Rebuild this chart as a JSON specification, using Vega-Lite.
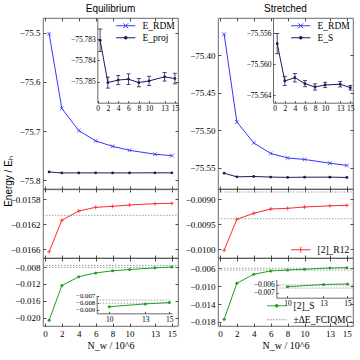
{
"$schema": "https://vega.github.io/schema/vega-lite/v6.json",
"background": "white",
"padding": {"left": 2, "top": 3, "right": 2, "bottom": 2},
"config": {
 "view": {"stroke": "#444", "strokeWidth": 0.8},
 "axis": {"labelFont": "Liberation Serif", "labelFontSize": 9, "labelColor": "#000", "tickSize": -3, "tickColor": "#222", "tickWidth": 0.8, "domain": false, "grid": false, "labelPadding": 6, "titleFont": "Liberation Serif", "titleFontSize": 10, "titleFontWeight": "normal", "titleColor": "#000", "labelFlush": false, "labelOverlap": false, "labelBound": false},
 "legend": {"labelFont": "Liberation Serif", "labelFontSize": 9.5, "labelColor": "#000", "symbolSize": 64, "symbolStrokeWidth": 1, "labelOffset": 12, "padding": 1, "rowPadding": 1, "symbolType": "M-2.4,0L2.4,0"},
 "title": {"font": "Liberation Sans", "fontSize": 10, "fontWeight": "normal", "color": "#000"}
},
"datasets": {
 "eqTop": [
  {"x": 0.5, "v": -75.502, "s": "E_RDM"}, {"x": 2, "v": -75.654, "s": "E_RDM"}, {"x": 4, "v": -75.699, "s": "E_RDM"}, {"x": 6, "v": -75.720, "s": "E_RDM"}, {"x": 8, "v": -75.731, "s": "E_RDM"}, {"x": 10, "v": -75.739, "s": "E_RDM"}, {"x": 13, "v": -75.747, "s": "E_RDM"}, {"x": 15, "v": -75.750, "s": "E_RDM"},
  {"x": 0.5, "v": -75.78305, "s": "E_proj"}, {"x": 2, "v": -75.78505, "s": "E_proj"}, {"x": 4, "v": -75.78493, "s": "E_proj"}, {"x": 6, "v": -75.78489, "s": "E_proj"}, {"x": 8, "v": -75.78505, "s": "E_proj"}, {"x": 10, "v": -75.78497, "s": "E_proj"}, {"x": 13, "v": -75.78478, "s": "E_proj"}, {"x": 15, "v": -75.78486, "s": "E_proj"}
 ],
 "eqIn": [
  {"x": 0.5, "v": -75.78305}, {"x": 2, "v": -75.78505}, {"x": 4, "v": -75.78493}, {"x": 6, "v": -75.78489}, {"x": 8, "v": -75.78505}, {"x": 10, "v": -75.78497}, {"x": 13, "v": -75.78478}, {"x": 15, "v": -75.78486}
 ],
 "eqInErr": [
  {"x": 0.5, "v": -75.78358}, {"x": 0.5, "v": -75.78252},
  {"x": 2, "v": -75.78531}, {"x": 2, "v": -75.78479},
  {"x": 4, "v": -75.78515}, {"x": 4, "v": -75.78471},
  {"x": 6, "v": -75.78514}, {"x": 6, "v": -75.78464},
  {"x": 8, "v": -75.78525}, {"x": 8, "v": -75.78485},
  {"x": 10, "v": -75.78519}, {"x": 10, "v": -75.78475},
  {"x": 13, "v": -75.78498}, {"x": 13, "v": -75.78458},
  {"x": 15, "v": -75.78511}, {"x": 15, "v": -75.78461}
 ],
 "eqR12": [
  {"x": 0.5, "v": -0.016638}, {"x": 2, "v": -0.016136}, {"x": 4, "v": -0.015987}, {"x": 6, "v": -0.015928}, {"x": 8, "v": -0.015912}, {"x": 10, "v": -0.015891}, {"x": 13, "v": -0.01587}, {"x": 15, "v": -0.015864}
 ],
 "eqR12Band": [{"v": -0.01565, "x": -0.225, "x2": 15.725}, {"v": -0.016056, "x": -0.225, "x2": 15.725}],
 "eqS": [
  {"x": 0.5, "v": -0.0206}, {"x": 2, "v": -0.0124}, {"x": 4, "v": -0.0103}, {"x": 6, "v": -0.0094}, {"x": 8, "v": -0.0089}, {"x": 10, "v": -0.0086}, {"x": 13, "v": -0.0082}, {"x": 15, "v": -0.0080}
 ],
 "eqSBand": [{"v": -0.00765, "x": -0.225, "x2": 15.725}, {"v": -0.0081, "x": -0.225, "x2": 15.725}],
 "eqSInBand": [{"v": -0.00765, "x": 8.95, "x2": 15.225}, {"v": -0.0081, "x": 8.95, "x2": 15.225}],
 "stTop": [
  {"x": 0.5, "v": -75.372, "s": "E_RDM"}, {"x": 2, "v": -75.489, "s": "E_RDM"}, {"x": 4, "v": -75.517, "s": "E_RDM"}, {"x": 6, "v": -75.531, "s": "E_RDM"}, {"x": 8, "v": -75.537, "s": "E_RDM"}, {"x": 10, "v": -75.539, "s": "E_RDM"}, {"x": 13, "v": -75.544, "s": "E_RDM"}, {"x": 15, "v": -75.547, "s": "E_RDM"},
  {"x": 0.5, "v": -75.55734, "s": "E_S"}, {"x": 2, "v": -75.56215, "s": "E_S"}, {"x": 4, "v": -75.56173, "s": "E_S"}, {"x": 6, "v": -75.5625, "s": "E_S"}, {"x": 8, "v": -75.56293, "s": "E_S"}, {"x": 10, "v": -75.56267, "s": "E_S"}, {"x": 13, "v": -75.56258, "s": "E_S"}, {"x": 15, "v": -75.56302, "s": "E_S"}
 ],
 "stIn": [
  {"x": 0.5, "v": -75.55734}, {"x": 2, "v": -75.56215}, {"x": 4, "v": -75.56173}, {"x": 6, "v": -75.5625}, {"x": 8, "v": -75.56293}, {"x": 10, "v": -75.56267}, {"x": 13, "v": -75.56258}, {"x": 15, "v": -75.56302}
 ],
 "stInErr": [
  {"x": 0.5, "v": -75.55864}, {"x": 0.5, "v": -75.55604},
  {"x": 2, "v": -75.56275}, {"x": 2, "v": -75.56155},
  {"x": 4, "v": -75.56228}, {"x": 4, "v": -75.56118},
  {"x": 6, "v": -75.5629}, {"x": 6, "v": -75.5621},
  {"x": 8, "v": -75.56333}, {"x": 8, "v": -75.56253},
  {"x": 10, "v": -75.56302}, {"x": 10, "v": -75.56232},
  {"x": 13, "v": -75.56293}, {"x": 13, "v": -75.56223},
  {"x": 15, "v": -75.56332}, {"x": 15, "v": -75.56272}
 ],
 "stR12": [
  {"x": 0.5, "v": -0.01002, "s": "[2]_R12"}, {"x": 2, "v": -0.0094, "s": "[2]_R12"}, {"x": 4, "v": -0.00928, "s": "[2]_R12"}, {"x": 6, "v": -0.009194, "s": "[2]_R12"}, {"x": 8, "v": -0.00918, "s": "[2]_R12"}, {"x": 10, "v": -0.009154, "s": "[2]_R12"}, {"x": 13, "v": -0.00913, "s": "[2]_R12"}, {"x": 15, "v": -0.00912, "s": "[2]_R12"}
 ],
 "stR12Band": [{"v": -0.008854, "x": -0.225, "x2": 15.725}, {"v": -0.009388, "x": -0.225, "x2": 15.725}],
 "stS": [
  {"x": 0.5, "v": -0.01741, "s": "[2]_S"}, {"x": 2, "v": -0.00936, "s": "[2]_S"}, {"x": 4, "v": -0.00734, "s": "[2]_S"}, {"x": 6, "v": -0.0066, "s": "[2]_S"}, {"x": 8, "v": -0.00638, "s": "[2]_S"}, {"x": 10, "v": -0.00622, "s": "[2]_S"}, {"x": 13, "v": -0.00593, "s": "[2]_S"}, {"x": 15, "v": -0.00587, "s": "[2]_S"}
 ],
 "stSBand": [{"v": -0.0060, "x": -0.225, "x2": 15.725, "s": "±ΔE_FCIQMC"}, {"v": -0.0064, "x": -0.225, "x2": 15.725, "s": "±ΔE_FCIQMC"}],
 "stSInBand": [{"v": -0.0060, "x": 9.07, "x2": 15.46}, {"v": -0.0064, "x": 9.07, "x2": 15.46}]
},
"spacing": 4,
"resolve": {"scale": {"color": "independent"}, "legend": {"color": "independent"}},
"hconcat": [
 {
  "spacing": 0,
  "bounds": "flush",
  "resolve": {"scale": {"color": "independent"}, "legend": {"color": "independent"}},
  "vconcat": [
   {
    "width": 135, "height": 171,
    "title": {"text": "Equilibrium", "frame": "group", "offset": 4},
    "resolve": {"scale": {"x": "independent", "y": "independent"}},
    "layer": [
     {
      "data": {"name": "eqTop"},
      "encoding": {
       "y": {"field": "v", "type": "quantitative", "scale": {"domain": [-75.8177, -75.4701], "nice": false, "zero": false}, "axis": {"orient": "left", "values": [-75.8, -75.7, -75.6, -75.5], "format": ".1f", "title": "Energy / Eₕ", "titleX": -30, "titleY": 163, "titleAngle": -90, "titleAlign": "center", "titleBaseline": "bottom", "titleFont": "Liberation Sans", "titleFontSize": 10}},
       "x": {"field": "x", "type": "quantitative", "scale": {"domain": [-0.225, 15.725], "nice": false, "zero": false}, "axis": {"orient": "bottom", "values": [0, 2, 4, 6, 8, 10, 13, 15], "labels": false, "title": null}},
       "color": {"field": "s", "type": "nominal", "scale": {"domain": ["E_RDM", "E_proj"], "range": ["#3434ff", "#1c1c5c"]}, "legend": {"title": null, "orient": "top-right", "offset": 2, "encode": {"symbols": {"update": {"shape": {"signal": "datum.value === 'E_RDM' ? 'M-2.4,0L2.4,0M-0.6,-0.6L0.6,0.6M-0.6,0.6L0.6,-0.6' : 'M-2.4,0L2.4,0M-0.35,0A0.35,0.35,0,1,1,0.35,0A0.35,0.35,0,1,1,-0.35,0'"}}}}}}
      },
      "layer": [
       {"mark": {"type": "line", "strokeWidth": 1}},
       {"transform": [{"filter": "datum.s === 'E_RDM'"}], "mark": {"type": "point", "shape": "M-1,-1L1,1M-1,1L1,-1", "filled": false, "size": 14, "strokeWidth": 0.8, "opacity": 1}},
       {"transform": [{"filter": "datum.s === 'E_proj'"}], "mark": {"type": "circle", "size": 8, "opacity": 1}}
      ]
     },
     {
      "data": {"name": "eqTop"},
      "mark": {"type": "point", "opacity": 0},
      "encoding": {
       "x": {"field": "x", "type": "quantitative", "scale": {"domain": [-0.225, 15.725], "nice": false, "zero": false}, "axis": {"orient": "top", "values": [0, 2, 4, 6, 8, 10, 13, 15], "labels": false, "title": null}},
       "y": {"field": "v", "type": "quantitative", "scale": {"domain": [-75.8177, -75.4701], "nice": false, "zero": false}, "axis": {"orient": "right", "values": [-75.8, -75.7, -75.6, -75.5], "labels": false, "title": null}}
      }
     },
     {
      "encoding": {
       "y": {"field": "v", "type": "quantitative", "scale": {"domain": [-75.786, -75.782], "range": [84.7, 0], "nice": false, "zero": false}, "axis": {"orient": "left", "offset": -54.3, "values": [-75.785, -75.784, -75.783], "format": ".3f", "title": null, "domain": true, "domainColor": "#444", "domainWidth": 0.8, "labelFontSize": 7.5, "tickSize": -2, "labelPadding": 4}},
       "x": {"field": "x", "type": "quantitative", "scale": {"domain": [-0.05, 15.6], "range": [54.3, 135], "nice": false, "zero": false}, "axis": {"orient": "bottom", "offset": -86.3, "values": [0, 2, 4, 6, 8, 10, 13, 15], "title": null, "domain": true, "domainColor": "#444", "domainWidth": 0.8, "labelFontSize": 7.5, "tickSize": -2, "labelPadding": 4}}
      },
      "layer": [
       {"data": {"name": "eqInErr"}, "mark": {"type": "line", "color": "#1c1c5c", "strokeWidth": 0.8}, "encoding": {"detail": {"field": "x", "type": "nominal"}}},
       {"data": {"name": "eqInErr"}, "mark": {"type": "tick", "orient": "horizontal", "size": 4, "thickness": 0.8, "color": "#1c1c5c", "opacity": 1}},
       {"data": {"name": "eqIn"}, "mark": {"type": "line", "color": "#1c1c5c", "strokeWidth": 1}},
       {"data": {"name": "eqIn"}, "mark": {"type": "circle", "color": "#1c1c5c", "size": 8, "opacity": 1}}
      ]
     }
    ]
   },
   {
    "width": 135, "height": 69,
    "resolve": {"scale": {"x": "independent", "y": "independent"}},
    "layer": [
     {
      "encoding": {
       "y": {"field": "v", "type": "quantitative", "scale": {"domain": [-0.016739, -0.015635], "nice": false, "zero": false}, "axis": {"orient": "left", "values": [-0.0166, -0.0162, -0.0158], "format": ".4f", "title": null}},
       "x": {"field": "x", "type": "quantitative", "scale": {"domain": [-0.225, 15.725], "nice": false, "zero": false}, "axis": {"orient": "bottom", "values": [0, 2, 4, 6, 8, 10, 13, 15], "labels": false, "title": null}}
      },
      "layer": [
       {"data": {"name": "eqR12Band"}, "mark": {"type": "rule", "color": "#888", "strokeDash": [1.5, 1.5], "strokeWidth": 0.8}, "encoding": {"x2": {"field": "x2"}}},
       {"data": {"name": "eqR12"}, "mark": {"type": "line", "color": "#ff2a2a", "strokeWidth": 1}},
       {"data": {"name": "eqR12"}, "mark": {"type": "point", "shape": "M-1,0L1,0M0,-1L0,1", "filled": false, "size": 16, "strokeWidth": 0.8, "color": "#ff2a2a", "opacity": 1}}
      ]
     },
     {
      "data": {"name": "eqR12"},
      "mark": {"type": "point", "opacity": 0},
      "encoding": {
       "x": {"field": "x", "type": "quantitative", "scale": {"domain": [-0.225, 15.725], "nice": false, "zero": false}, "axis": {"orient": "top", "values": [0, 2, 4, 6, 8, 10, 13, 15], "labels": false, "title": null}},
       "y": {"field": "v", "type": "quantitative", "scale": {"domain": [-0.016739, -0.015635], "nice": false, "zero": false}, "axis": {"orient": "right", "values": [-0.0166, -0.0162, -0.0158], "labels": false, "title": null}}
      }
     }
    ]
   },
   {
    "width": 135, "height": 68,
    "resolve": {"scale": {"x": "independent", "y": "independent"}},
    "layer": [
     {
      "encoding": {
       "y": {"field": "v", "type": "quantitative", "scale": {"domain": [-0.02196, -0.00587], "nice": false, "zero": false}, "axis": {"orient": "left", "values": [-0.020, -0.016, -0.012, -0.008], "format": ".3f", "title": null}},
       "x": {"field": "x", "type": "quantitative", "scale": {"domain": [-0.225, 15.725], "nice": false, "zero": false}, "axis": {"orient": "bottom", "values": [0, 2, 4, 6, 8, 10, 13, 15], "title": "N_w / 10^6", "titlePadding": 2}}
      },
      "layer": [
       {"data": {"name": "eqSBand"}, "mark": {"type": "rule", "color": "#888", "strokeDash": [1.5, 1.5], "strokeWidth": 0.8}, "encoding": {"x2": {"field": "x2"}}},
       {"data": {"name": "eqS"}, "mark": {"type": "line", "color": "#22a022", "strokeWidth": 1}},
       {"data": {"name": "eqS"}, "mark": {"type": "circle", "color": "#22a022", "size": 9, "opacity": 1}}
      ]
     },
     {
      "data": {"name": "eqS"},
      "mark": {"type": "point", "opacity": 0},
      "encoding": {
       "x": {"field": "x", "type": "quantitative", "scale": {"domain": [-0.225, 15.725], "nice": false, "zero": false}, "axis": {"orient": "top", "values": [0, 2, 4, 6, 8, 10, 13, 15], "labels": false, "title": null}},
       "y": {"field": "v", "type": "quantitative", "scale": {"domain": [-0.02196, -0.00587], "nice": false, "zero": false}, "axis": {"orient": "right", "values": [-0.020, -0.016, -0.012, -0.008], "labels": false, "title": null}}
      }
     },
     {
      "encoding": {
       "y": {"field": "v", "type": "quantitative", "scale": {"domain": [-0.00954, -0.00697], "range": [55.3, 37.3], "nice": false, "zero": false}, "axis": {"orient": "left", "offset": -53.7, "values": [-0.009, -0.008, -0.007], "format": ".3f", "title": null, "domain": true, "domainColor": "#444", "domainWidth": 0.8, "labelFontSize": 6.8, "tickSize": -2, "labelPadding": 4}},
       "x": {"field": "x", "type": "quantitative", "scale": {"domain": [8.95, 15.225], "range": [53.7, 129], "nice": false, "zero": false}, "axis": {"orient": "bottom", "offset": -12.7, "values": [10, 13, 15], "title": null, "domain": true, "domainColor": "#444", "domainWidth": 0.8, "labelFontSize": 7.5, "tickSize": -2, "labelPadding": 4}}
      },
      "layer": [
       {"data": {"name": "eqSInBand"}, "mark": {"type": "rule", "color": "#888", "strokeDash": [1.5, 1.5], "strokeWidth": 0.8}, "encoding": {"x2": {"field": "x2"}}},
       {"data": {"name": "eqS"}, "transform": [{"filter": "datum.x >= 10"}], "mark": {"type": "line", "color": "#22a022", "strokeWidth": 1}},
       {"data": {"name": "eqS"}, "transform": [{"filter": "datum.x >= 10"}], "mark": {"type": "circle", "color": "#22a022", "size": 9, "opacity": 1}}
      ]
     }
    ]
   }
  ]
 },
 {
  "spacing": 0,
  "bounds": "flush",
  "resolve": {"scale": {"color": "independent"}, "legend": {"color": "independent"}},
  "vconcat": [
   {
    "width": 135, "height": 171,
    "title": {"text": "Stretched", "frame": "group", "offset": 4},
    "resolve": {"scale": {"x": "independent", "y": "independent"}},
    "layer": [
     {
      "data": {"name": "stTop"},
      "encoding": {
       "y": {"field": "v", "type": "quantitative", "scale": {"domain": [-75.5784, -75.3504], "nice": false, "zero": false}, "axis": {"orient": "left", "values": [-75.55, -75.5, -75.45, -75.4, -75.35], "format": ".2f", "title": null}},
       "x": {"field": "x", "type": "quantitative", "scale": {"domain": [-0.225, 15.725], "nice": false, "zero": false}, "axis": {"orient": "bottom", "values": [0, 2, 4, 6, 8, 10, 13, 15], "labels": false, "title": null}},
       "color": {"field": "s", "type": "nominal", "scale": {"domain": ["E_RDM", "E_S"], "range": ["#3434ff", "#1c1c5c"]}, "legend": {"title": null, "orient": "top-right", "offset": 2, "encode": {"symbols": {"update": {"shape": {"signal": "datum.value === 'E_RDM' ? 'M-2.4,0L2.4,0M-0.6,-0.6L0.6,0.6M-0.6,0.6L0.6,-0.6' : 'M-2.4,0L2.4,0M-0.35,0A0.35,0.35,0,1,1,0.35,0A0.35,0.35,0,1,1,-0.35,0'"}}}}}}
      },
      "layer": [
       {"mark": {"type": "line", "strokeWidth": 1}},
       {"transform": [{"filter": "datum.s === 'E_RDM'"}], "mark": {"type": "point", "shape": "M-1,-1L1,1M-1,1L1,-1", "filled": false, "size": 14, "strokeWidth": 0.8, "opacity": 1}},
       {"transform": [{"filter": "datum.s === 'E_S'"}], "mark": {"type": "circle", "size": 8, "opacity": 1}}
      ]
     },
     {
      "data": {"name": "stTop"},
      "mark": {"type": "point", "opacity": 0},
      "encoding": {
       "x": {"field": "x", "type": "quantitative", "scale": {"domain": [-0.225, 15.725], "nice": false, "zero": false}, "axis": {"orient": "top", "values": [0, 2, 4, 6, 8, 10, 13, 15], "labels": false, "title": null}},
       "y": {"field": "v", "type": "quantitative", "scale": {"domain": [-75.5784, -75.3504], "nice": false, "zero": false}, "axis": {"orient": "right", "values": [-75.55, -75.5, -75.45, -75.4, -75.35], "labels": false, "title": null}}
      }
     },
     {
      "encoding": {
       "y": {"field": "v", "type": "quantitative", "scale": {"domain": [-75.56496, -75.55403], "range": [84.7, 0], "nice": false, "zero": false}, "axis": {"orient": "left", "offset": -55, "values": [-75.564, -75.56, -75.556], "format": ".3f", "title": null, "domain": true, "domainColor": "#444", "domainWidth": 0.8, "labelFontSize": 7.5, "tickSize": -2, "labelPadding": 4}},
       "x": {"field": "x", "type": "quantitative", "scale": {"domain": [-0.34, 15.53], "range": [55, 135], "nice": false, "zero": false}, "axis": {"orient": "bottom", "offset": -86.3, "values": [0, 2, 4, 6, 8, 10, 13, 15], "title": null, "domain": true, "domainColor": "#444", "domainWidth": 0.8, "labelFontSize": 7.5, "tickSize": -2, "labelPadding": 4}}
      },
      "layer": [
       {"data": {"name": "stInErr"}, "mark": {"type": "line", "color": "#1c1c5c", "strokeWidth": 0.8}, "encoding": {"detail": {"field": "x", "type": "nominal"}}},
       {"data": {"name": "stInErr"}, "mark": {"type": "tick", "orient": "horizontal", "size": 4, "thickness": 0.8, "color": "#1c1c5c", "opacity": 1}},
       {"data": {"name": "stIn"}, "mark": {"type": "line", "color": "#1c1c5c", "strokeWidth": 1}},
       {"data": {"name": "stIn"}, "mark": {"type": "circle", "color": "#1c1c5c", "size": 8, "opacity": 1}}
      ]
     }
    ]
   },
   {
    "width": 135, "height": 69,
    "resolve": {"scale": {"x": "independent", "y": "independent"}},
    "layer": [
     {
      "encoding": {
       "y": {"field": "v", "type": "quantitative", "scale": {"domain": [-0.010174, -0.008794], "nice": false, "zero": false}, "axis": {"orient": "left", "values": [-0.0100, -0.0095, -0.0090], "format": ".4f", "title": null}},
       "x": {"field": "x", "type": "quantitative", "scale": {"domain": [-0.225, 15.725], "nice": false, "zero": false}, "axis": {"orient": "bottom", "values": [0, 2, 4, 6, 8, 10, 13, 15], "labels": false, "title": null}},
       "color": {"field": "s", "type": "nominal", "scale": {"domain": ["[2]_R12"], "range": ["#ff2a2a"]}, "legend": {"title": null, "orient": "bottom-right", "offset": 2, "encode": {"symbols": {"update": {"shape": {"value": "M-2.4,0L2.4,0M0,-0.7L0,0.7"}}}}}}
      },
      "layer": [
       {"data": {"name": "stR12Band"}, "mark": {"type": "rule", "strokeDash": [1.5, 1.5], "strokeWidth": 0.8}, "encoding": {"x2": {"field": "x2"}, "color": {"value": "#888"}}},
       {"data": {"name": "stR12"}, "mark": {"type": "line", "strokeWidth": 1}},
       {"data": {"name": "stR12"}, "mark": {"type": "point", "shape": "M-1,0L1,0M0,-1L0,1", "filled": false, "size": 16, "strokeWidth": 0.8, "opacity": 1}}
      ]
     },
     {
      "data": {"name": "stR12"},
      "mark": {"type": "point", "opacity": 0},
      "encoding": {
       "x": {"field": "x", "type": "quantitative", "scale": {"domain": [-0.225, 15.725], "nice": false, "zero": false}, "axis": {"orient": "top", "values": [0, 2, 4, 6, 8, 10, 13, 15], "labels": false, "title": null}},
       "y": {"field": "v", "type": "quantitative", "scale": {"domain": [-0.010174, -0.008794], "nice": false, "zero": false}, "axis": {"orient": "right", "values": [-0.0100, -0.0095, -0.0090], "labels": false, "title": null}}
      }
     }
    ]
   },
   {
    "width": 135, "height": 68,
    "resolve": {"scale": {"x": "independent", "y": "independent"}},
    "layer": [
     {
      "encoding": {
       "y": {"field": "v", "type": "quantitative", "scale": {"domain": [-0.01891, -0.0037], "nice": false, "zero": false}, "axis": {"orient": "left", "values": [-0.018, -0.014, -0.010, -0.006], "format": ".3f", "title": null}},
       "x": {"field": "x", "type": "quantitative", "scale": {"domain": [-0.225, 15.725], "nice": false, "zero": false}, "axis": {"orient": "bottom", "values": [0, 2, 4, 6, 8, 10, 13, 15], "title": "N_w / 10^6", "titlePadding": 2}},
       "color": {"field": "s", "type": "nominal", "scale": {"domain": ["[2]_S", "±ΔE_FCIQMC"], "range": ["#22a022", "#888"]}, "legend": {"title": null, "orient": "bottom-right", "offset": 0, "rowPadding": 3, "encode": {"symbols": {"update": {"shape": {"signal": "datum.value === '[2]_S' ? 'M-2.4,0L2.4,0M-0.35,0A0.35,0.35,0,1,1,0.35,0A0.35,0.35,0,1,1,-0.35,0' : 'M-2.4,0L2.4,0'"}, "strokeDash": {"signal": "datum.value === '[2]_S' ? [1,0] : [1.5,1.5]"}}}}}}
      },
      "layer": [
       {"data": {"name": "stSBand"}, "mark": {"type": "rule", "strokeDash": [1.5, 1.5], "strokeWidth": 0.8}, "encoding": {"x2": {"field": "x2"}}},
       {"data": {"name": "stS"}, "mark": {"type": "line", "strokeWidth": 1}},
       {"data": {"name": "stS"}, "mark": {"type": "circle", "size": 9, "opacity": 1}}
      ]
     },
     {
      "data": {"name": "stS"},
      "mark": {"type": "point", "opacity": 0},
      "encoding": {
       "x": {"field": "x", "type": "quantitative", "scale": {"domain": [-0.225, 15.725], "nice": false, "zero": false}, "axis": {"orient": "top", "values": [0, 2, 4, 6, 8, 10, 13, 15], "labels": false, "title": null}},
       "y": {"field": "v", "type": "quantitative", "scale": {"domain": [-0.01891, -0.0037], "nice": false, "zero": false}, "axis": {"orient": "right", "values": [-0.018, -0.014, -0.010, -0.006], "labels": false, "title": null}}
      }
     },
     {
      "encoding": {
       "y": {"field": "v", "type": "quantitative", "scale": {"domain": [-0.00765, -0.00526], "range": [39.7, 21.3], "nice": false, "zero": false}, "axis": {"orient": "left", "offset": -58.3, "values": [-0.007, -0.006], "format": ".3f", "title": null, "domain": true, "domainColor": "#444", "domainWidth": 0.8, "labelFontSize": 7.5, "tickSize": -2, "labelPadding": 4}},
       "x": {"field": "x", "type": "quantitative", "scale": {"domain": [9.07, 15.46], "range": [58.3, 135], "nice": false, "zero": false}, "axis": {"orient": "bottom", "offset": -28.3, "values": [10, 13, 15], "title": null, "domain": true, "domainColor": "#444", "domainWidth": 0.8, "labelFontSize": 7.5, "tickSize": -2, "labelPadding": 4}}
      },
      "layer": [
       {"data": {"name": "stSInBand"}, "mark": {"type": "rule", "color": "#888", "strokeDash": [1.5, 1.5], "strokeWidth": 0.8}, "encoding": {"x2": {"field": "x2"}}},
       {"data": {"name": "stS"}, "transform": [{"filter": "datum.x >= 10"}], "mark": {"type": "line", "color": "#22a022", "strokeWidth": 1}},
       {"data": {"name": "stS"}, "transform": [{"filter": "datum.x >= 10"}], "mark": {"type": "circle", "color": "#22a022", "size": 9, "opacity": 1}}
      ]
     }
    ]
   }
  ]
 }
]
}
